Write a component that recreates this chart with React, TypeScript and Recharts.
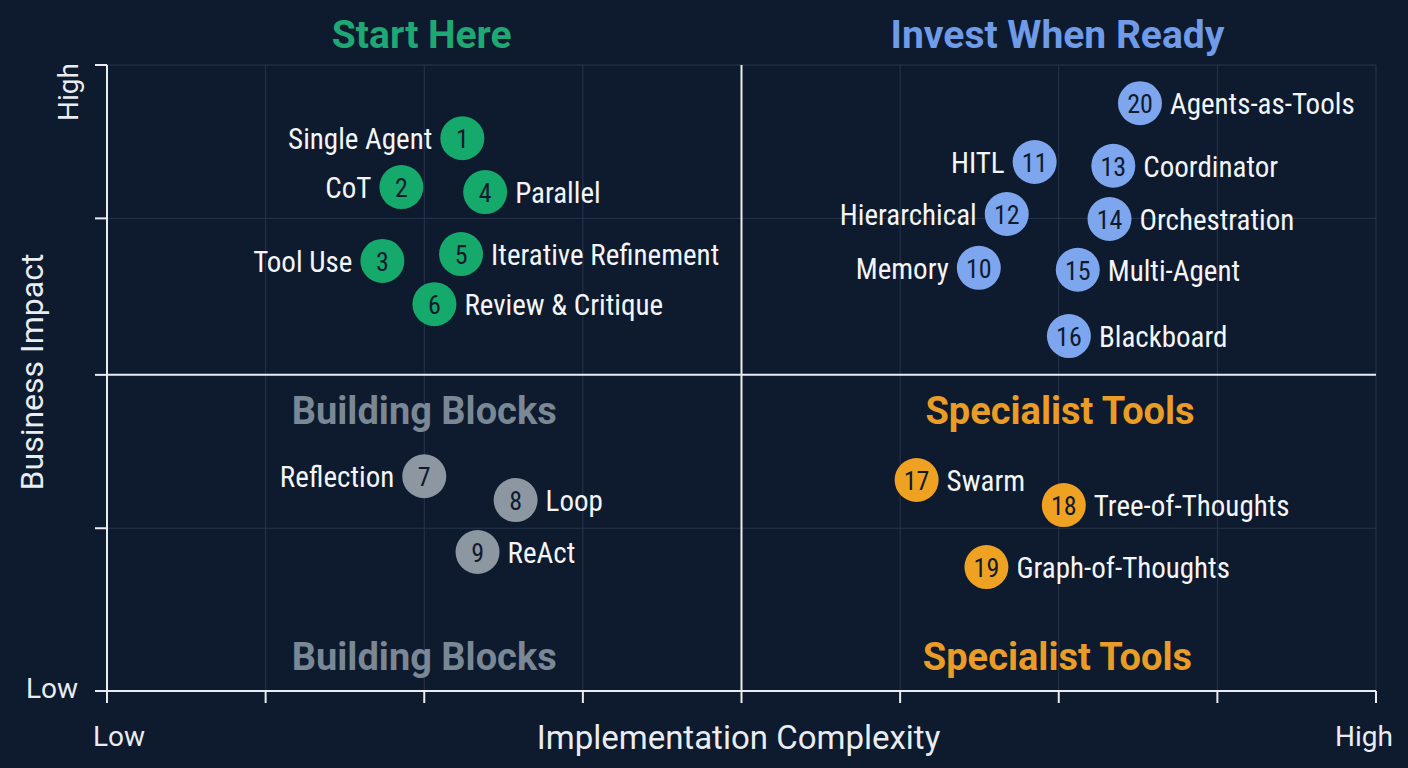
import {
  ScatterChart,
  Scatter,
  XAxis,
  YAxis,
  CartesianGrid,
  ReferenceLine,
  ReferenceDot,
  Label,
} from "recharts";

// pattern numbers and names
const patternIds = [1, 2, 3, 4, 5, 6, 7, 8, 9, 10, 11, 12, 13, 14, 15, 16, 17, 18, 19, 20];
const patternNames = [
  "Single Agent",
  "CoT",
  "Tool Use",
  "Parallel",
  "Iterative Refinement",
  "Review & Critique",
  "Reflection",
  "Loop",
  "ReAct",
  "Memory",
  "HITL",
  "Hierarchical",
  "Coordinator",
  "Orchestration",
  "Multi-Agent",
  "Blackboard",
  "Swarm",
  "Tree-of-Thoughts",
  "Graph-of-Thoughts",
  "Agents-as-Tools",
];
// implementation complexity (0 = low, 10 = high)
const complexity = [2.8, 2.32, 2.17, 2.98, 2.79, 2.58, 2.5, 3.22, 2.92, 6.87, 7.31, 7.09, 7.93, 7.9, 7.65, 7.58, 6.38, 7.54, 6.93, 8.14];
// business impact (0 = low, 10 = high)
const impact = [8.83, 8.05, 6.87, 7.97, 6.98, 6.18, 3.43, 3.05, 2.22, 6.76, 8.45, 7.62, 8.39, 7.54, 6.73, 5.67, 3.37, 2.97, 1.98, 9.39];
// which ones get their name on the left of the dot
const labelOnLeft = [1, 2, 3, 7, 10, 11, 12];

const startHere = [1, 2, 3, 4, 5, 6];
const buildingBlocks = [7, 8, 9];
const investWhenReady = [10, 11, 12, 13, 14, 15, 16, 20];
const specialistTools = [17, 18, 19];

const quadrantTitles = ["Start Here", "Invest When Ready", "Building Blocks", "Specialist Tools", "Building Blocks", "Specialist Tools"];

const xTicks = [0, 1.25, 2.5, 3.75, 5, 6.25, 7.5, 8.75, 10];
const yTicks = [0, 2.6, 5.05, 7.55, 10];
const xSplit = 5;
const ySplit = 5.05;

const BG = "#0e1a2d";
const AXIS = "#e9edf2";
const GRID = "#27364d";
const NARROW = "'Liberation Sans Narrow', 'Roboto Condensed', Roboto, sans-serif";
const ROBOTO = "Roboto, 'Noto Sans', sans-serif";

const GREEN = "#16a96c";
const BLUE = "#7ea6ee";
const GREY = "#8c97a1";
const ORANGE = "#efa222";

// title placement (data units), size and colour
const titleLayout = [
  { x: 2.48, y: 10.48, size: 39, color: "#1ea874" },
  { x: 7.49, y: 10.48, size: 39, color: "#6f9be8" },
  { x: 2.5, y: 4.47, size: 38, color: "#7a8896" },
  { x: 7.51, y: 4.47, size: 38, color: "#e99c26" },
  { x: 2.5, y: 0.54, size: 38, color: "#7a8896" },
  { x: 7.49, y: 0.54, size: 38, color: "#e99c26" },
];

const toPoints = (members: number[]) =>
  members.map((id) => {
    const i = patternIds.indexOf(id);
    return {
      x: complexity[i],
      y: impact[i],
      id,
      name: patternNames[i],
      left: labelOnLeft.includes(id),
    };
  });

function PatternDot(props: any) {
  const { cx, cy, payload, fill } = props;
  if (cx == null || cy == null) return null;
  const r = 22;
  return (
    <g>
      <circle cx={cx} cy={cy} r={r} fill={fill} />
      <text
        x={cx}
        y={cy + 1}
        textAnchor="middle"
        dominantBaseline="central"
        fontSize={26}
        fontFamily={NARROW}
        fill="#0f1b2c"
      >
        {payload.id}
      </text>
      <text
        x={payload.left ? cx - r - 8 : cx + r + 8}
        y={cy + 1}
        textAnchor={payload.left ? "end" : "start"}
        dominantBaseline="central"
        fontSize={29}
        fontFamily={NARROW}
        fill="#f3f5f8"
      >
        {payload.name}
      </text>
    </g>
  );
}

function XTick(props: any) {
  const { x, y, payload } = props;
  if (payload.value === 0 || payload.value === 10) {
    return (
      <text
        x={payload.value === 0 ? x + 12 : x - 12}
        y={y + 33}
        textAnchor="middle"
        dominantBaseline="central"
        fontSize={28}
        fontFamily={ROBOTO}
        fill={AXIS}
      >
        {payload.value === 0 ? "Low" : "High"}
      </text>
    );
  }
  return null;
}

function YTick(props: any) {
  const { x, y, payload } = props;
  if (payload.value === 10) {
    const tx = x - 27;
    const ty = y + 27;
    return (
      <text
        x={tx}
        y={ty}
        transform={`rotate(-90, ${tx}, ${ty})`}
        textAnchor="middle"
        dominantBaseline="central"
        fontSize={28}
        fontFamily={ROBOTO}
        fill={AXIS}
      >
        High
      </text>
    );
  }
  if (payload.value === 0) {
    return (
      <text
        x={x - 17}
        y={y - 3}
        textAnchor="end"
        dominantBaseline="central"
        fontSize={28}
        fontFamily={ROBOTO}
        fill={AXIS}
      >
        Low
      </text>
    );
  }
  return null;
}

export default function App() {
  return (
    <div style={{ position: "fixed", left: 0, top: 0, width: 1408, height: 768, background: BG }}>
      <ScatterChart
        width={1408}
        height={768}
        margin={{ top: 65, right: 32, bottom: 0, left: 32 }}
      >
        <CartesianGrid stroke={GRID} strokeWidth={1} />
        <XAxis
          type="number"
          dataKey="x"
          domain={[0, 10]}
          ticks={xTicks}
          allowDataOverflow
          height={77}
          tickSize={12}
          tickMargin={0}
          tick={<XTick />}
          axisLine={{ stroke: AXIS, strokeWidth: 2 }}
          tickLine={{ stroke: AXIS, strokeWidth: 2 }}
        >
          <Label
            content={({ viewBox }: any) => (
              <text
                x={viewBox.x + viewBox.width / 2 - 3}
                y={viewBox.y + 46}
                textAnchor="middle"
                dominantBaseline="central"
                fontSize={33}
                fontFamily={ROBOTO}
                fill={AXIS}
              >
                Implementation Complexity
              </text>
            )}
          />
        </XAxis>
        <YAxis
          type="number"
          dataKey="y"
          domain={[0, 10]}
          ticks={yTicks}
          allowDataOverflow
          width={75}
          tickSize={12}
          tickMargin={0}
          tick={<YTick />}
          axisLine={{ stroke: AXIS, strokeWidth: 2 }}
          tickLine={{ stroke: AXIS, strokeWidth: 2 }}
        >
          <Label
            content={({ viewBox }: any) => {
              const lx = viewBox.x;
              const ly = viewBox.y + viewBox.height / 2 - 6;
              return (
                <text
                  x={lx}
                  y={ly}
                  transform={`rotate(-90, ${lx}, ${ly})`}
                  textAnchor="middle"
                  dominantBaseline="central"
                  fontSize={32}
                  fontFamily={ROBOTO}
                  fill={AXIS}
                >
                  Business Impact
                </text>
              );
            }}
          />
        </YAxis>

        <ReferenceLine x={xSplit} stroke={AXIS} strokeWidth={2} />
        <ReferenceLine y={ySplit} stroke={AXIS} strokeWidth={2} />

        {quadrantTitles.map((title, i) => (
          <ReferenceDot
            key={`title-${i}`}
            x={titleLayout[i].x}
            y={titleLayout[i].y}
            r={0}
            ifOverflow="visible"
            shape={(p: any) => (
              <text
                x={p.cx}
                y={p.cy}
                textAnchor="middle"
                dominantBaseline="central"
                fontSize={titleLayout[i].size}
                fontWeight={700}
                fontFamily={ROBOTO}
                fill={titleLayout[i].color}
              >
                {title}
              </text>
            )}
          />
        ))}

        <Scatter data={toPoints(startHere)} fill={GREEN} shape={<PatternDot />} isAnimationActive={false} />
        <Scatter data={toPoints(buildingBlocks)} fill={GREY} shape={<PatternDot />} isAnimationActive={false} />
        <Scatter data={toPoints(investWhenReady)} fill={BLUE} shape={<PatternDot />} isAnimationActive={false} />
        <Scatter data={toPoints(specialistTools)} fill={ORANGE} shape={<PatternDot />} isAnimationActive={false} />
      </ScatterChart>
    </div>
  );
}
